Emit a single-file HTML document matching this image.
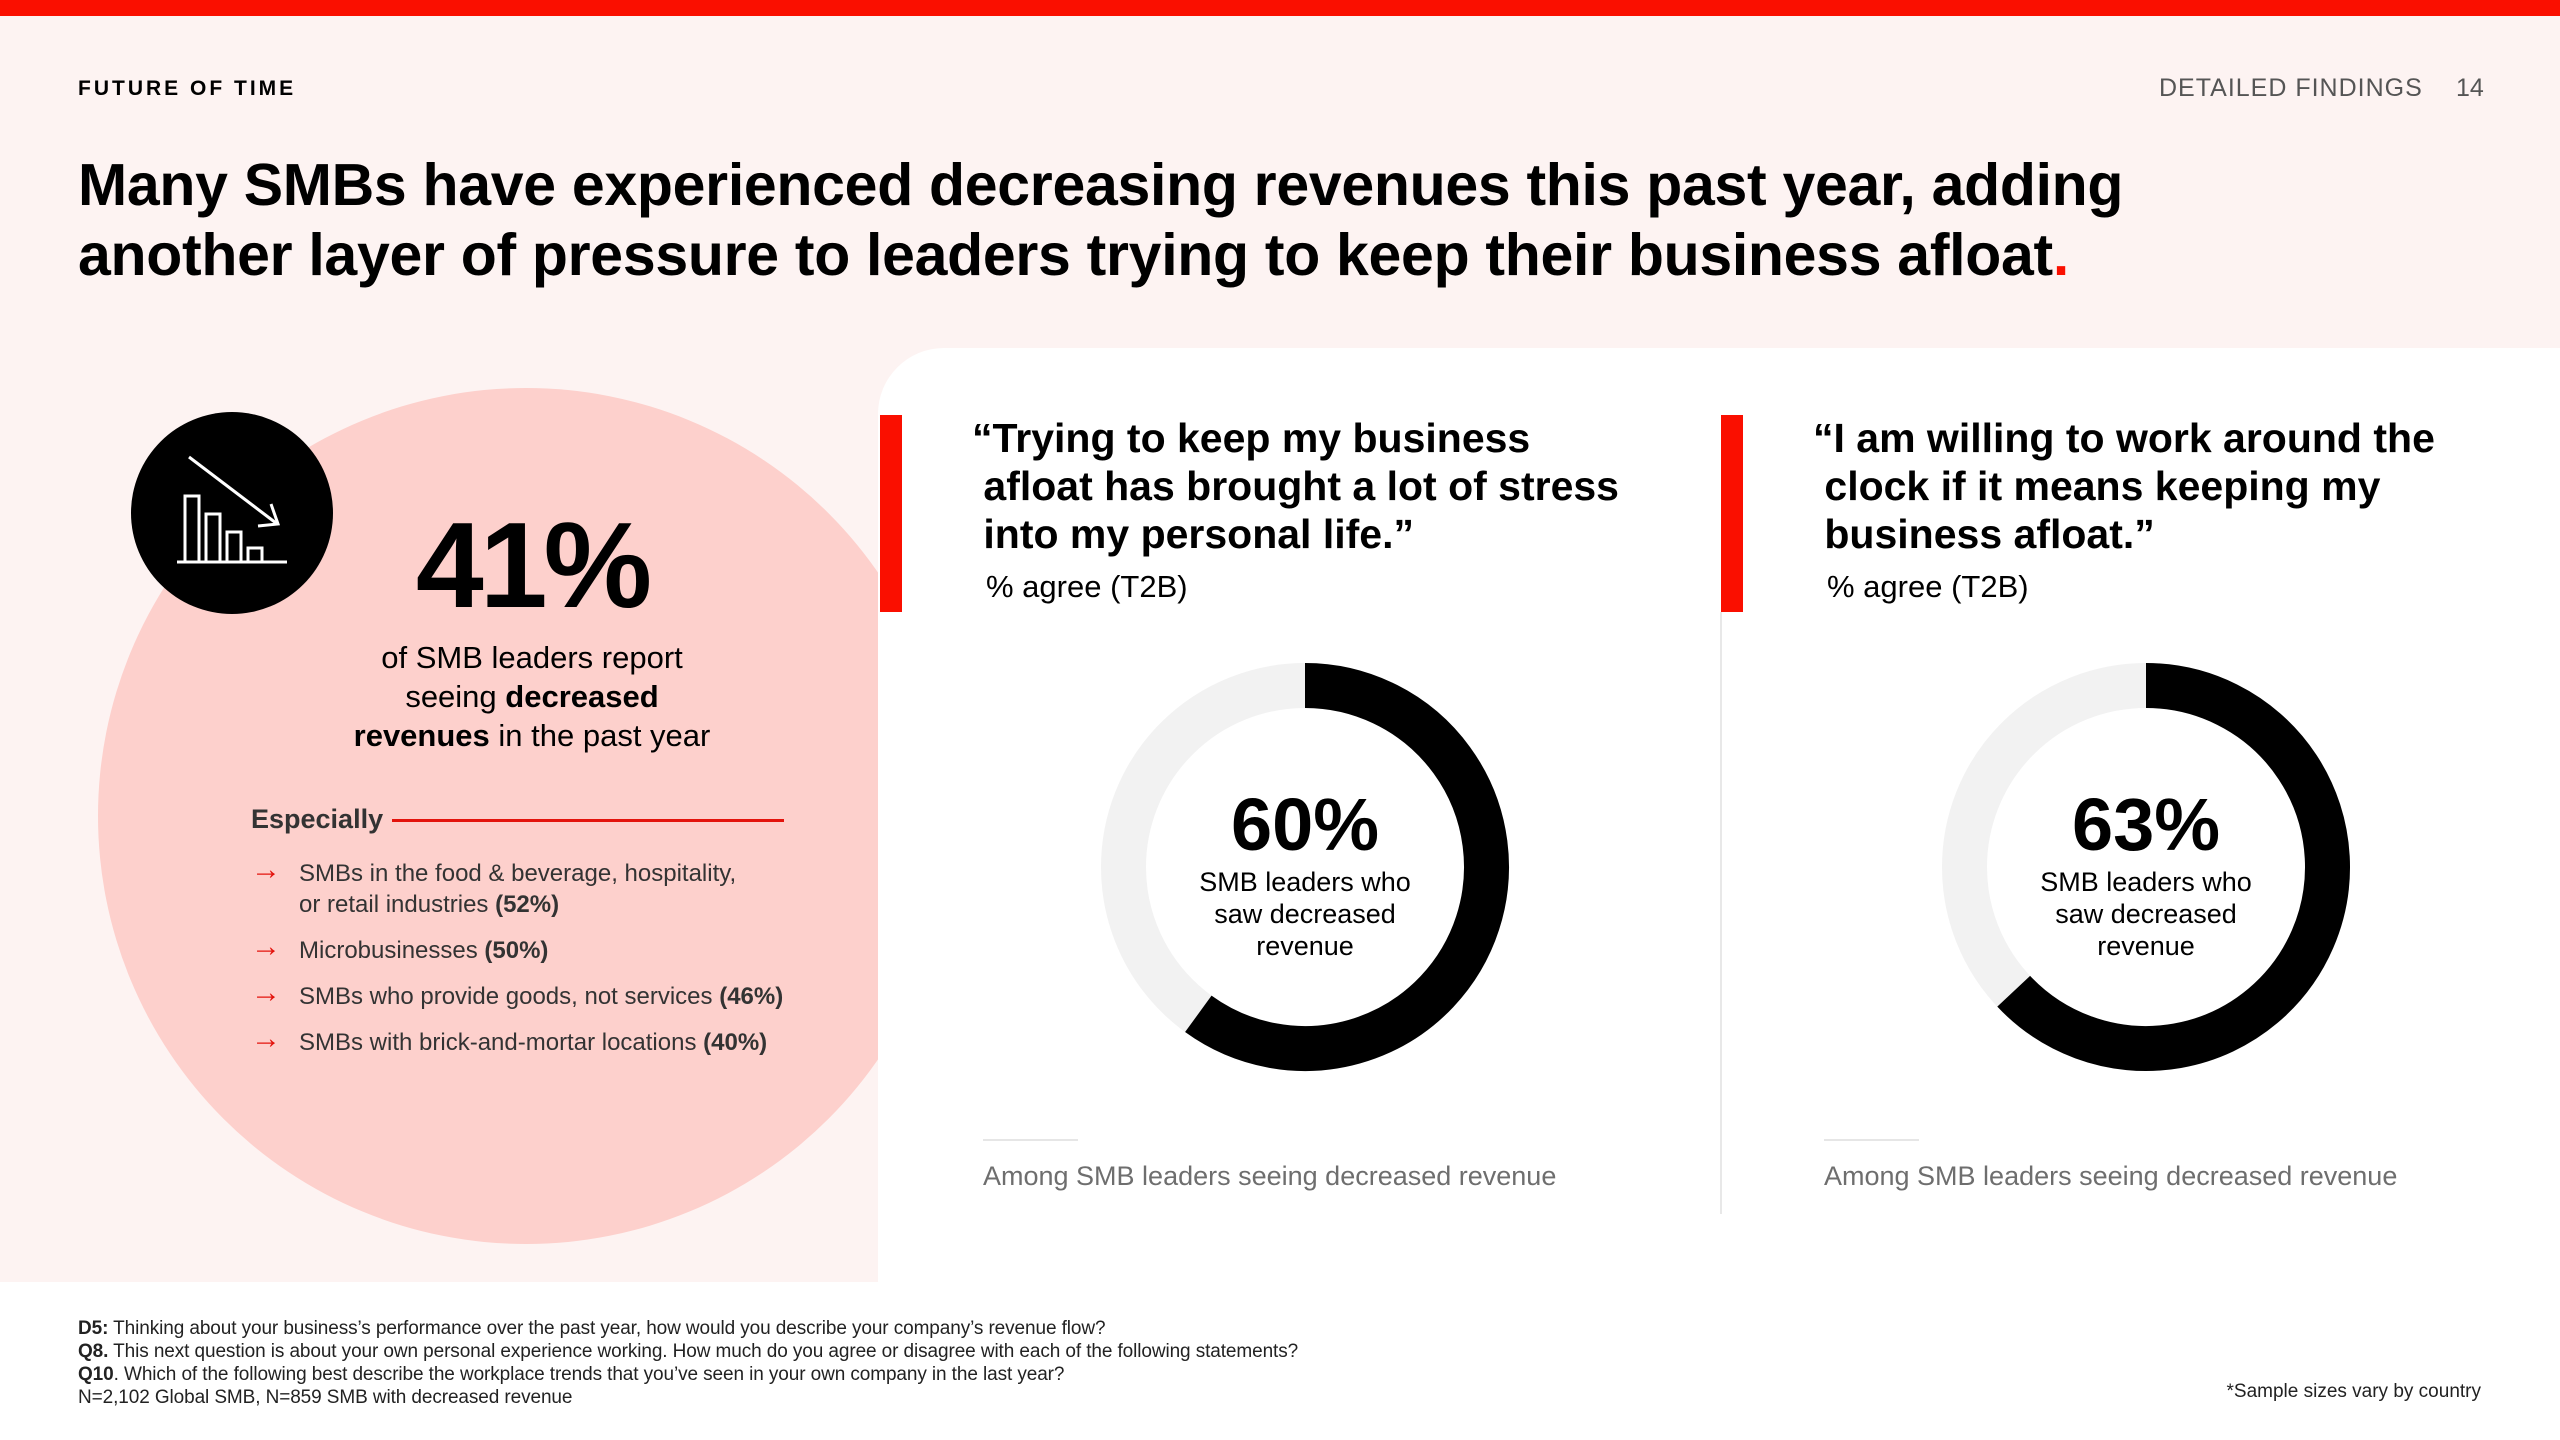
<!DOCTYPE html>
<html><head><meta charset="utf-8"><style>
*{margin:0;padding:0;box-sizing:border-box}
body{width:2560px;height:1440px;position:relative;overflow:hidden;background:#fff;font-family:"Liberation Sans",sans-serif;color:#000}
.a{position:absolute;white-space:nowrap}
.arr{color:#e3130c;position:absolute;left:0;top:-4px;font-size:30px}
</style></head><body>
<div class="a" style="left:0;top:0;width:2560px;height:16px;background:#fa0f00"></div>
<div class="a" style="left:0;top:16px;width:2560px;height:1266px;background:#fdf3f2;overflow:hidden">
  <div class="a" style="left:98px;top:372px;width:856px;height:856px;border-radius:50%;background:#fdd0cc"></div>
</div>
<div class="a" style="left:878px;top:348px;width:1682px;height:934px;background:#fff;border-top-left-radius:66px"></div>

<div class="a" style="left:78px;top:77px;font-size:21px;font-weight:bold;letter-spacing:3px">FUTURE OF TIME</div>
<div class="a" style="left:2159px;top:74px;font-size:25px;color:#555;letter-spacing:1px">DETAILED FINDINGS</div>
<div class="a" style="left:2456px;top:74px;font-size:25px;color:#555">14</div>
<div class="a" style="left:78px;top:150px;font-size:59px;font-weight:bold;line-height:70px;letter-spacing:-0.3px">Many SMBs have experienced decreasing revenues this past year, adding<br>another layer of pressure to leaders trying to keep their business afloat<span style="color:#fa0f00">.</span></div>

<svg class="a" style="left:131px;top:412px" width="202" height="202" viewBox="0 0 202 202">
  <circle cx="101" cy="101" r="101" fill="#000"/>
  <g fill="none" stroke="#fff" stroke-width="3">
    <line x1="46" y1="150" x2="156" y2="150"/>
    <rect x="54" y="84" width="14" height="66"/><rect x="75" y="102" width="14" height="48"/>
    <rect x="96" y="120" width="14" height="30"/><rect x="117" y="136" width="14" height="14"/>
    <line x1="58" y1="45" x2="145" y2="111"/><polyline points="140,92 147,112 127,114"/>
  </g>
</svg>
<div class="a" style="left:332px;top:505px;width:400px;text-align:center;font-size:122px;font-weight:bold;letter-spacing:-4px;line-height:120px">41%</div>
<div class="a" style="left:282px;top:638px;width:500px;text-align:center;font-size:31px;line-height:39px">of SMB leaders report<br>seeing <b>decreased</b><br><b>revenues</b> in the past year</div>
<div class="a" style="left:251px;top:804px;font-size:27px;font-weight:bold;color:#333">Especially</div>
<div class="a" style="left:392px;top:819px;width:392px;height:3px;background:#e3130c"></div>
<div class="a" style="left:251px;top:858px;font-size:24px;color:#333;line-height:31px">
  <div style="position:absolute;top:0"><span class="arr">→</span><span style="position:absolute;left:48px">SMBs in the food &amp; beverage, hospitality,<br>or retail industries <b>(52%)</b></span></div>
  <div style="position:absolute;top:77px"><span class="arr">→</span><span style="position:absolute;left:48px">Microbusinesses <b>(50%)</b></span></div>
  <div style="position:absolute;top:123px"><span class="arr">→</span><span style="position:absolute;left:48px">SMBs who provide goods, not services <b>(46%)</b></span></div>
  <div style="position:absolute;top:169px"><span class="arr">→</span><span style="position:absolute;left:48px">SMBs with brick-and-mortar locations <b>(40%)</b></span></div>
</div>

<div class="a" style="left:1720px;top:612px;width:2px;height:602px;background:#e8e8e8"></div>

<div id="panels"></div>

<div class="a" style="left:78px;top:1317px;font-size:19px;line-height:23px;color:#222;letter-spacing:-0.1px">
<b>D5:</b> Thinking about your business’s performance over the past year, how would you describe your company’s revenue flow?<br>
<b>Q8.</b> This next question is about your own personal experience working. How much do you agree or disagree with each of the following statements?<br>
<b>Q10</b>. Which of the following best describe the workplace trends that you’ve seen in your own company in the last year?<br>
N=2,102 Global SMB, N=859 SMB with decreased revenue</div>
<div class="a" style="left:2185px;top:1381px;width:296px;text-align:right;font-size:19px;color:#222">*Sample sizes vary by country</div>

<script>
const quotes = ["“Trying to keep my business<br>&nbsp;afloat has brought a lot of stress<br>&nbsp;into my personal life.”", "“I am willing to work around the<br>&nbsp;clock if it means keeping my<br>&nbsp;business afloat.”"];
const values = [60, 63];
const labels = ["60%", "63%"];
const panelX = [880, 1721];
const root = document.getElementById('panels');
const R = 181.5, SW = 45;
function angle(v){ return v / 100 * 2 * Math.PI; }
for (let i = 0; i < values.length; i++) {
  const x0 = panelX[i];
  const bar = document.createElement('div');
  bar.className = 'a';
  
  
  bar.style.cssText = `left:${x0}px;top:415px;width:22px;height:197px;background:#fa0f00`;
  root.appendChild(bar);
  const q = document.createElement('div');
  q.className = 'a';
  
  
  q.style.cssText = `left:${x0+92}px;top:414px;font-size:41px;font-weight:bold;line-height:48px`;
  q.innerHTML = quotes[i];
  root.appendChild(q);
  const ag = document.createElement('div');
  ag.className = 'a';
  
  
  ag.style.cssText = `left:${x0+106}px;top:569px;font-size:31px`;
  ag.textContent = '% agree (T2B)';
  root.appendChild(ag);
  const cx = x0 + 425, cy = 867;
  const ns = 'http://www.w3.org/2000/svg';
  const svg = document.createElementNS(ns, 'svg');
  svg.setAttribute('class', 'a');
  
  
  svg.setAttribute('width', 440); svg.setAttribute('height', 440);
  svg.style.left = (cx - 220) + 'px'; svg.style.top = (cy - 220) + 'px';
  const bg = document.createElementNS(ns, 'circle');
  
  
  bg.setAttribute('cx', 220); bg.setAttribute('cy', 220); bg.setAttribute('r', R);
  bg.setAttribute('fill', 'none'); bg.setAttribute('stroke', '#f2f2f2'); bg.setAttribute('stroke-width', SW);
  svg.appendChild(bg);
  const a = angle(values[i]);
  const ex = 220 + R * Math.sin(a), ey = 220 - R * Math.cos(a);
  const arc = document.createElementNS(ns, 'path');
  
  
  arc.setAttribute('d', `M220 ${220-R} A${R} ${R} 0 ${values[i] > 50 ? 1 : 0} 1 ${ex} ${ey}`);
  arc.setAttribute('fill', 'none'); arc.setAttribute('stroke', '#000'); arc.setAttribute('stroke-width', SW);
  svg.appendChild(arc);
  root.appendChild(svg);
  const pct = document.createElement('div');
  pct.className = 'a';
  
  
  pct.style.cssText = `left:${cx-150}px;top:785px;width:300px;text-align:center;font-size:74px;font-weight:bold;line-height:80px`;
  pct.textContent = labels[i];
  root.appendChild(pct);
  const sub = document.createElement('div');
  sub.className = 'a';
  
  
  sub.style.cssText = `left:${cx-150}px;top:866px;width:300px;text-align:center;font-size:27px;line-height:32px`;
  sub.innerHTML = 'SMB leaders who<br>saw decreased<br>revenue';
  root.appendChild(sub);
  const rule = document.createElement('div');
  rule.className = 'a';
  
  
  rule.style.cssText = `left:${x0+103}px;top:1139px;width:95px;height:2px;background:#e6e6e6`;
  root.appendChild(rule);
  const note = document.createElement('div');
  note.className = 'a';
  
  
  note.style.cssText = `left:${x0+103}px;top:1161px;font-size:27px;color:#6e6e6e`;
  note.textContent = 'Among SMB leaders seeing decreased revenue';
  root.appendChild(note);
}
</script>
</body></html>
